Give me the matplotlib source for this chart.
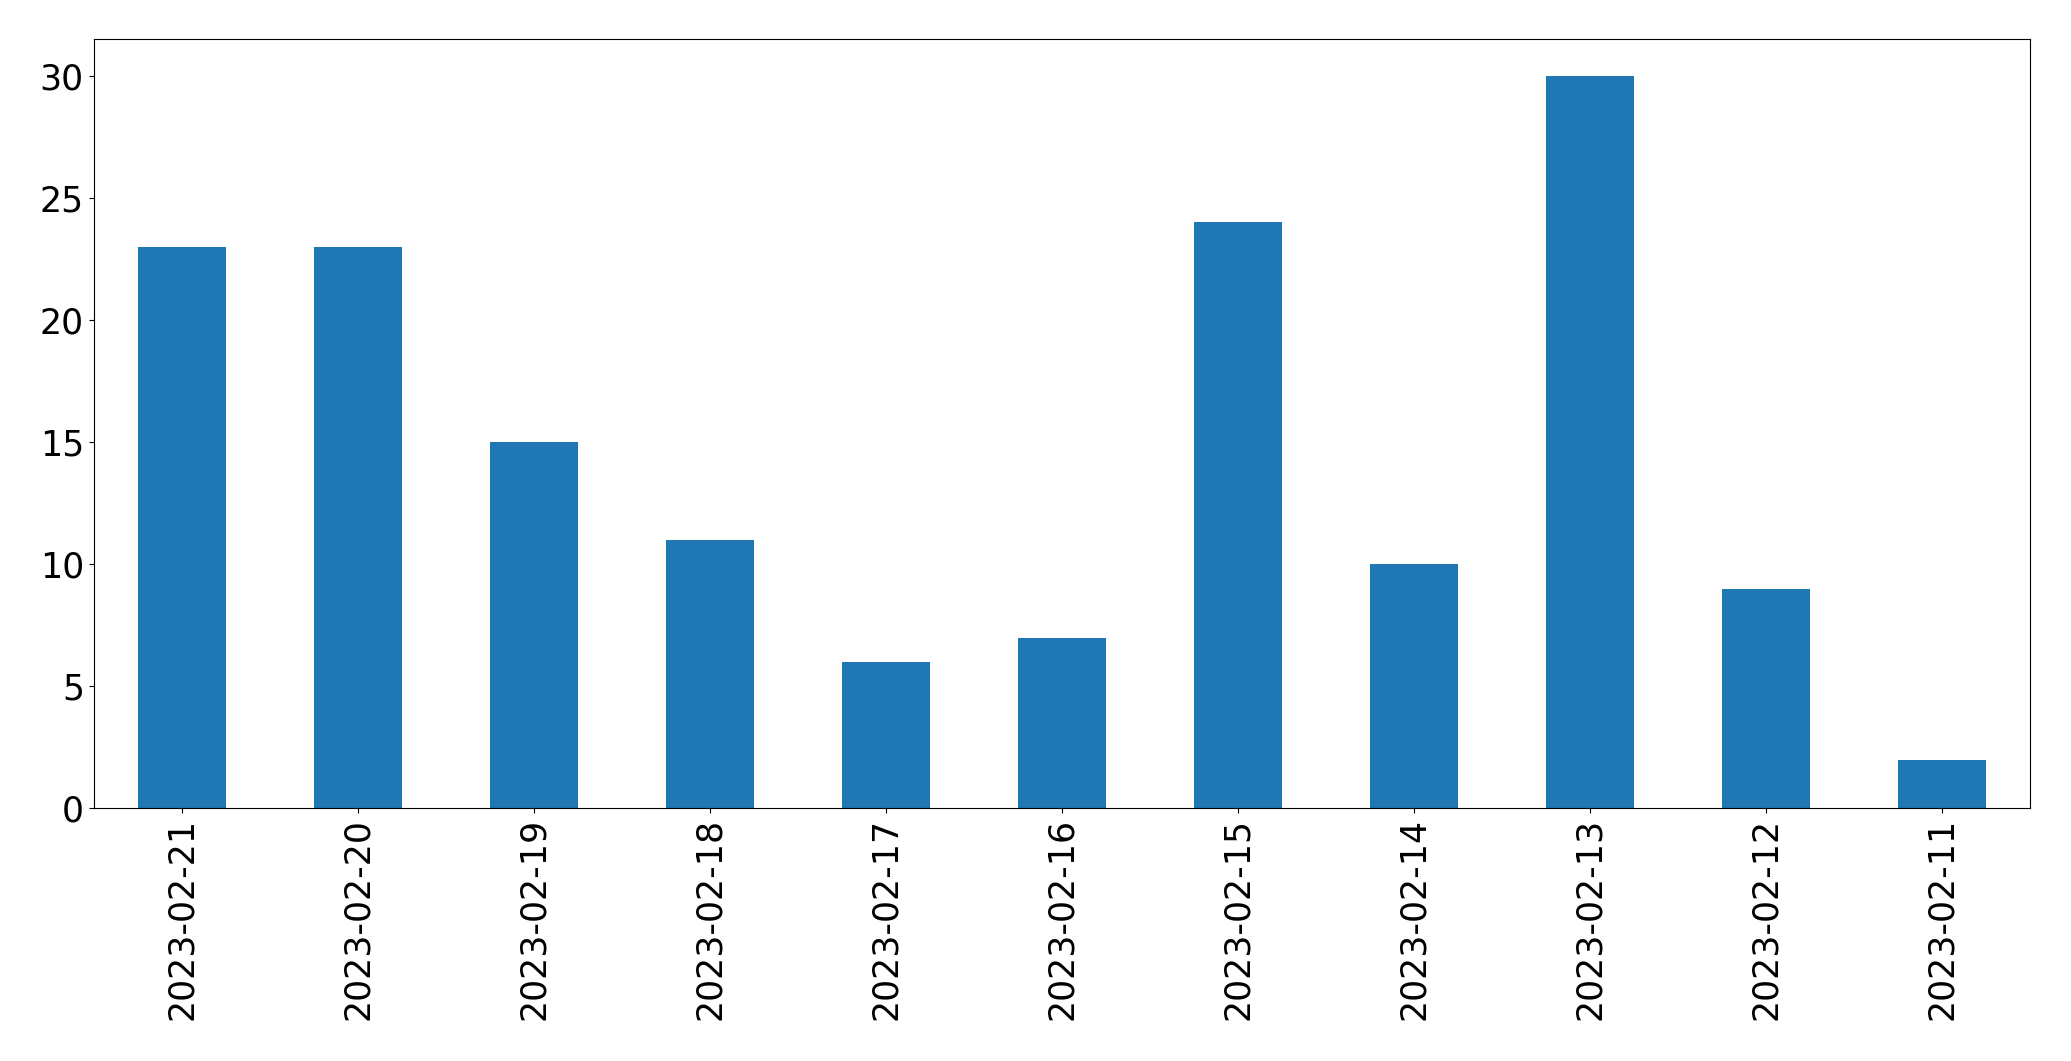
import matplotlib
matplotlib.use("Agg")
import matplotlib.pyplot as plt

dates = ["2023-02-21", "2023-02-20", "2023-02-19", "2023-02-18", "2023-02-17",
         "2023-02-16", "2023-02-15", "2023-02-14", "2023-02-13", "2023-02-12", "2023-02-11"]
counts = [23, 23, 15, 11, 6, 7, 24, 10, 30, 9, 2]

fig = plt.figure(figsize=(20.71, 10.61), dpi=100)
ax = fig.add_axes([0.0452, 0.238, 0.9350, 0.725])
x = list(range(len(dates)))
ax.bar(x, counts, width=0.5, color="#1f77b4")
ax.set_xlim(-0.5, len(dates) - 0.5)
ax.set_xticks(x)
ax.set_xticklabels(dates, rotation=90, fontsize=25)
ax.tick_params(axis="y", labelsize=25)
ax.set_yticks([0, 5, 10, 15, 20, 25, 30])
fig.savefig("out.png", dpi=100)
